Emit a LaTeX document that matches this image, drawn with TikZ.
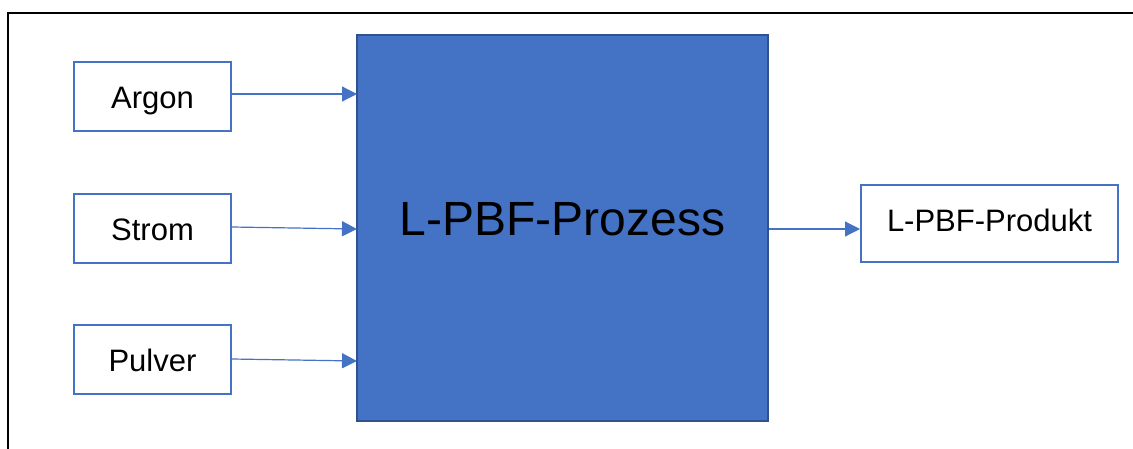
\documentclass[tikz,border=0pt]{standalone}
\usepackage{fontspec}
\setmainfont{Liberation Sans}
\usetikzlibrary{arrows.meta}
\definecolor{accent}{HTML}{4472C4}
\definecolor{accentdark}{HTML}{2F528F}
\begin{document}
\begin{tikzpicture}[x=1pt,y=-1pt,
  inbox/.style={draw=accent, line width=2pt, fill=white, minimum width=157pt, minimum height=69pt, inner sep=0pt, text height=24pt, text depth=0pt, font=\fontsize{31}{36}\selectfont},
  outbox/.style={draw=accent, line width=2pt, fill=white, minimum width=257pt, minimum height=77pt, inner sep=0pt, text height=22pt, text depth=6pt, font=\fontsize{31}{36}\selectfont},
  procbox/.style={draw=accentdark, line width=2pt, fill=accent, minimum width=411pt, minimum height=386pt, inner sep=0pt, text height=34pt, text depth=20pt, font=\fontsize{48}{56}\selectfont},
  flow/.style={draw=accent, line width=1.2pt, -{Triangle[length=15pt,width=15pt]}}]
\useasboundingbox (0,0) rectangle (1133,448);
% outer frame
\draw[black, line width=2pt] (8,460) -- (8,13) -- (1140,13);
% nodes
\node[procbox] (proc) at (562.5,228) {L-PBF-Prozess};
\node[inbox] (argon) at (152.5,96.5) {Argon};
\node[inbox] (strom) at (152.5,228) {Strom};
\node[inbox] (pulver) at (152.5,359) {Pulver};
\node[outbox] (prod) at (989.5,223.5) {L-PBF-Produkt};
% connectors
\coordinate (pa) at (357,94);
\coordinate (ps) at (357,229);
\coordinate (pp) at (357,361);
\draw[flow] (argon.east |- pa) -- (pa);
\draw[flow] (strom.east |- 0,227) -- (ps);
\draw[flow] (pulver.east |- 0,359) -- (pp);
\draw[flow] (proc.east |- 0,229) -- (prod.west |- 0,229);
\end{tikzpicture}
\end{document}
